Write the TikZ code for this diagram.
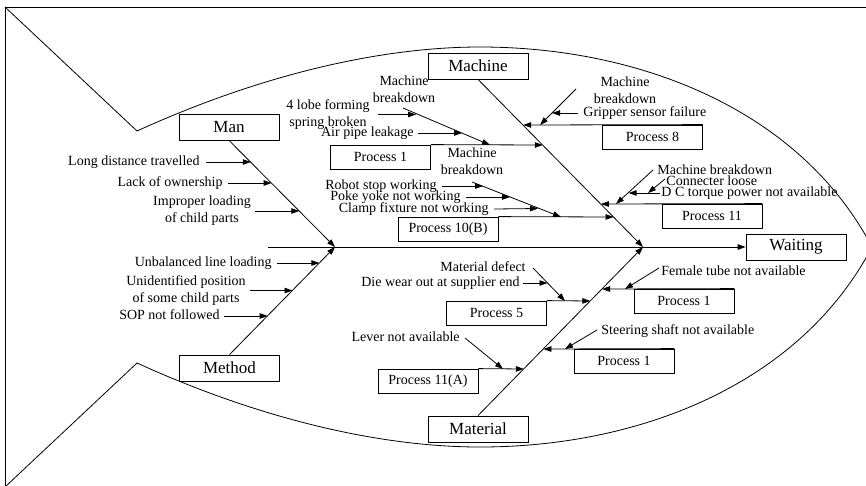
\documentclass[tikz,border=0pt]{standalone}
\usepackage{fontspec}
\setmainfont{Liberation Serif}
\usetikzlibrary{arrows.meta}
\newcommand\smf{\fontsize{14}{17}\selectfont}
\newcommand\bgf{\fontsize{17}{20}\selectfont}
\begin{document}
\begin{tikzpicture}[x=1pt,y=-1pt,line width=0.8pt,
  cat/.style={draw, minimum width=100pt, minimum height=26pt, inner sep=0pt, font=\bgf},
  proc/.style={draw, minimum width=100pt, minimum height=24pt, inner sep=0pt, font=\smf},
  lb/.style={inner sep=0pt, font=\smf, text height=9.5pt, text depth=3pt},
  lbtwo/.style={inner sep=0pt, font=\smf, align=center},
  arr/.style={-{Triangle[length=8pt,width=5.5pt]}}]
\useasboundingbox (0,0) rectangle (866,485);
\clip (0,0) rectangle (866,485);
% frame
\draw (5,495) -- (5,7) -- (875,7);
% fish outline
\draw (5,7) -- (137,131) .. controls (260,75) and (380,47) .. (480,47)
  .. controls (640,47) and (800,110) .. (872,247)
  .. controls (800,384) and (640,447) .. (480,447)
  .. controls (380,447) and (260,419) .. (137,363) -- (5,487);
% main boxes
\node[cat] (man) at (229,127) {Man};
\node[cat] (machine) at (478,66) {Machine};
\node[cat] (method) at (229.5,368) {Method};
\node[cat] (material) at (478,429) {Material};
\node[cat] (waiting) at (796,247) {Waiting};
% process boxes
\node[proc] (p1a) at (380.5,157) {Process 1};
\node[proc] (p10b) at (448,229) {Process 10(B)};
\node[proc] (p8) at (652.5,137) {Process 8};
\node[proc] (p11) at (712,216) {Process 11};
\node[proc] (p1b) at (684,301) {Process 1};
\node[proc] (p1c) at (624,361) {Process 1};
\node[proc] (p5) at (496.5,313) {Process 5};
\node[proc] (p11a) at (428,381) {Process 11(A)};
% labels
\node[lb, anchor=east] (tLong) at (200,162) {Long distance travelled};
\node[lb, anchor=east] (tLack) at (223,183) {Lack of ownership};
\node[lbtwo] (tImp) at (202,211) {Improper loading\\of child parts};
\node[lb, anchor=east] (tUnb) at (272,263) {Unbalanced line loading};
\node[lbtwo] (tUnid) at (186,290.5) {Unidentified position\\of some child parts};
\node[lb, anchor=east] (tSop) at (220,316) {SOP not followed};
\node[lbtwo] (tMbA) at (404,89.5) {Machine\\breakdown};
\node[lbtwo] (tLobe) at (328,114.5) {4 lobe forming\\spring broken};
\node[lb, anchor=east] (tAir) at (414,133) {Air pipe leakage};
\node[lbtwo] (tMbB) at (472,161.5) {Machine\\breakdown};
\node[lb, anchor=east] (tRobot) at (437,186) {Robot stop working};
\node[lb, anchor=east] (tPoke) at (461,197) {Poke yoke not working};
\node[lb, anchor=east] (tClamp) at (489,209) {Clamp fixture not working};
\node[lbtwo] (tMbC) at (625,90) {Machine\\breakdown};
\node[lb, anchor=west] (tGrip) at (583,113) {Gripper sensor failure};
\node[lb, anchor=west] (tMbD) at (657,171) {Machine breakdown};
\node[lb, anchor=west] (tConn) at (666,182) {Connecter loose};
\node[lb, anchor=west] (tDC) at (661,193) {D C torque power not available};
\node[lb, anchor=west] (tFem) at (661,272) {Female tube not available};
\node[lb, anchor=west] (tSteer) at (601,331) {Steering shaft not available};
\node[lb, anchor=east] (tMat) at (526,268) {Material defect};
\node[lb, anchor=east] (tDie) at (520,283) {Die wear out at supplier end};
\node[lb, anchor=east] (tLever) at (460,338) {Lever not available};
% coordinates
\coordinate (J1) at (335,247);
\coordinate (J2) at (643,247);
\coordinate (S0) at (268,247);
\coordinate (hLong) at (250.8,162);
\coordinate (hLack) at (271.6,183);
\coordinate (hImp) at (299.3,211);
\coordinate (hUnb) at (319.4,263);
\coordinate (hUnid) at (292.5,290.5);
\coordinate (hSop) at (267.6,316);
\coordinate (m1) at (542.8,145);
\coordinate (m2) at (613.5,217);
\coordinate (m3) at (523.2,125);
\coordinate (m4) at (600.8,204);
\coordinate (m5) at (602,289);
\coordinate (m6) at (543.4,349);
\coordinate (m7) at (590.3,301);
\coordinate (m8) at (523.9,369);
\coordinate (sA0) at (403,108);
\coordinate (sA1) at (490,145);
\coordinate (hLobe) at (416,114.5);
\coordinate (hAir) at (462,133);
\coordinate (sB0) at (472,182);
\coordinate (sB1) at (561,217);
\coordinate (hRobot) at (483,186);
\coordinate (hPoke) at (510,197);
\coordinate (hClamp) at (538,208.5);
\coordinate (sC0) at (576,89);
\coordinate (sC1) at (540,125);
\coordinate (hGrip) at (552,113);
\coordinate (sD0) at (653,170);
\coordinate (sD1) at (616,204);
\coordinate (hDC) at (628.6,193);
\coordinate (sE0) at (665,179);
\coordinate (sE1) at (648,193);
\coordinate (sF0) at (659,268);
\coordinate (sF1) at (625,289);
\coordinate (sG0) at (597,330);
\coordinate (sG1) at (565,349);
\coordinate (sH0) at (533,268);
\coordinate (sH1) at (565,301);
\coordinate (hDie) at (547.5,283);
\coordinate (sI0) at (465,338);
\coordinate (sI1) at (503,369);
% spine and bones
\draw[arr] (S0) -- (waiting.west);
\draw[arr] (man.south) -- (J1);
\draw[arr] (method.north) -- (J1);
\draw[arr] (machine.south) -- (J2);
\draw[arr] (material.north) -- (J2);
% Man causes
\draw[arr] ([xshift=6pt]tLong.east) -- (hLong);
\draw[arr] ([xshift=5pt]tLack.east) -- (hLack);
\draw[arr] ([xshift=4pt]tImp.east) -- (hImp);
% Method causes
\draw[arr] ([xshift=5pt]tUnb.east) -- (hUnb);
\draw[arr] ([xshift=4pt]tUnid.east) -- (hUnid);
\draw[arr] ([xshift=4pt]tSop.east) -- (hSop);
% Machine: process 1
\draw[arr] (p1a.north east) -- (m1);
\draw[arr] (sA0) -- (sA1);
\draw[arr] ([xshift=8pt]tLobe.east) -- (hLobe);
\draw[arr] ([xshift=4pt]tAir.east) -- (hAir);
% Machine: process 10(B)
\draw[arr] (p10b.north east) -- (m2);
\draw[arr] (sB0) -- (sB1);
\draw[arr] ([xshift=5pt]tRobot.east) -- (hRobot);
\draw[arr] ([xshift=5pt]tPoke.east) -- (hPoke);
\draw[arr] ([xshift=5pt]tClamp.east) -- (hClamp);
% Machine: process 8
\draw[arr] (p8.north east) -- (m3);
\draw[arr] (sC0) -- (sC1);
\draw[arr] ([xshift=-5pt]tGrip.west) -- (hGrip);
% Machine: process 11
\draw[arr] (p11.north east) -- (m4);
\draw[arr] (sD0) -- (sD1);
\draw[arr] ([xshift=-1pt]tDC.west) -- (hDC);
\draw[arr] (sE0) -- (sE1);
% Material side
\draw[arr] (p1b.north east) -- (m5);
\draw[arr] (sF0) -- (sF1);
\draw[arr] (p1c.north east) -- (m6);
\draw[arr] (sG0) -- (sG1);
\draw[arr] (p5.north east) -- (m7);
\draw[arr] (sH0) -- (sH1);
\draw[arr] ([xshift=3pt]tDie.east) -- (hDie);
\draw[arr] (p11a.north east) -- (m8);
\draw[arr] (sI0) -- (sI1);
\end{tikzpicture}
\end{document}
